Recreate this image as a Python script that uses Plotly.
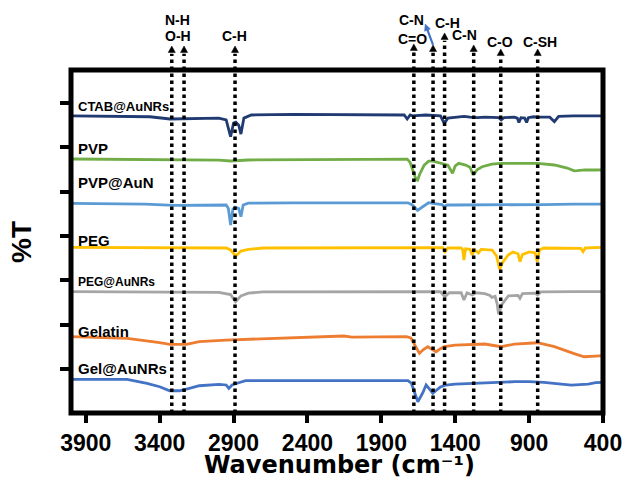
import math
import plotly.graph_objects as go

# ---------------- data ----------------
series_names = ["CTAB@AuNRs", "PVP", "PVP@AuN", "PEG", "PEG@AuNRs", "Gelatin", "Gel@AuNRs"]
series_colors = ["#203A72", "#70AD47", "#5B9BD5", "#FFC000", "#A5A5A5", "#ED7D31", "#4472C4"]

ctab_wn = [4000, 3466, 3330, 3130, 3000, 2950, 2920, 2900, 2885, 2865, 2850, 2830, 2780, 2500, 1800, 1745, 1725, 1705,
           1690, 1600, 1500, 1474, 1450, 1400, 1340, 1300, 1250, 1200, 1150, 1105, 1089, 1070, 1000, 980, 969, 955,
           930, 917, 905, 870, 840, 760, 729, 700, 600, 450, 400]
ctab_t = [6.71, 6.69, 6.64, 6.66, 6.66, 6.62, 6.24, 6.55, 6.57, 6.50, 6.30, 6.66, 6.73, 6.745, 6.745, 6.73, 6.64, 6.73,
          6.71, 6.73, 6.71, 6.54, 6.66, 6.68, 6.70, 6.68, 6.67, 6.68, 6.68, 6.67, 6.62, 6.67, 6.68, 6.66, 6.56, 6.67,
          6.66, 6.56, 6.67, 6.69, 6.68, 6.68, 6.58, 6.70, 6.71, 6.71, 6.71]

pvp_wn = [4000, 3500, 3300, 3000, 2920, 2800, 2000, 1820, 1725, 1705, 1685, 1665, 1655, 1640, 1610, 1580, 1550, 1500,
          1450, 1418, 1400, 1376, 1330, 1300, 1278, 1250, 1218, 1152, 1089, 843, 729, 642, 595, 575, 522, 450, 400]
pvp_t = [5.737, 5.73, 5.715, 5.71, 5.692, 5.715, 5.73, 5.737, 5.735, 5.66, 5.44, 5.27, 5.26, 5.40, 5.60, 5.69, 5.69, 5.64,
         5.60, 5.415, 5.58, 5.64, 5.60, 5.55, 5.376, 5.50, 5.564, 5.62, 5.64, 5.64, 5.602, 5.534, 5.47, 5.473, 5.49,
         5.489, 5.49]

pvpau_wn = [4000, 3500, 3300, 3100, 2950, 2935, 2920, 2905, 2890, 2865, 2850, 2835, 2800, 2500, 1720, 1690, 1655, 1620,
            1580, 1550, 1490, 1475, 1455, 1400, 1200, 1000, 800, 600, 400]
pvpau_t = [4.738, 4.72, 4.69, 4.70, 4.70, 4.62, 4.248, 4.60, 4.65, 4.62, 4.436, 4.70, 4.74, 4.75, 4.75, 4.70, 4.58, 4.66,
           4.751, 4.735, 4.71, 4.661, 4.70, 4.70, 4.70, 4.71, 4.71, 4.72, 4.72]

peg_wn = [4000, 3000, 2950, 2920, 2885, 2850, 2800, 2700, 1500, 1485, 1469, 1450, 1360, 1350, 1341, 1330, 1300, 1285,
          1270, 1255, 1243, 1225, 1150, 1120, 1100, 1080, 1042, 1010, 975, 962, 945, 900, 860, 845, 830, 800, 600, 550,
          535, 520, 400]
peg_t = [3.745, 3.745, 3.73, 3.685, 3.549, 3.66, 3.70, 3.73, 3.745, 3.74, 3.646, 3.73, 3.73, 3.70, 3.459, 3.71, 3.70,
         3.572, 3.69, 3.66, 3.617, 3.70, 3.685, 3.55, 3.249, 3.40, 3.572, 3.64, 3.60, 3.42, 3.58, 3.64, 3.62, 3.42, 3.685,
         3.73, 3.73, 3.72, 3.646, 3.73, 3.745]

pegau_wn = [4000, 3300, 3000, 2920, 2887, 2850, 2800, 2700, 1500, 1470, 1440, 1360, 1341, 1320, 1285, 1260, 1200, 1165,
            1152, 1130, 1115, 1107, 1085, 1062, 1040, 975, 962, 945, 860, 843, 820, 600, 400]
pegau_t = [2.744, 2.744, 2.73, 2.68, 2.518, 2.65, 2.71, 2.74, 2.744, 2.631, 2.72, 2.72, 2.557, 2.72, 2.669, 2.72, 2.70,
           2.66, 2.617, 2.64, 2.45, 2.241, 2.45, 2.557, 2.65, 2.66, 2.595, 2.70, 2.71, 2.669, 2.74, 2.744, 2.744]

gel_wn = [4000, 3847, 3620, 3400, 3332, 3219, 3132, 2952, 2732, 2500, 2154, 2100, 1800, 1730, 1700, 1676, 1642, 1615,
          1586, 1560, 1530, 1500, 1474, 1400, 1300, 1200, 1089, 1000, 843, 729, 600, 528, 450, 400]
gel_t = [1.729, 1.716, 1.693, 1.593, 1.557, 1.557, 1.616, 1.654, 1.677, 1.70, 1.745, 1.72, 1.729, 1.729, 1.70, 1.55, 1.354,
         1.44, 1.503, 1.45, 1.39, 1.46, 1.503, 1.541, 1.557, 1.564, 1.503, 1.564, 1.593, 1.503, 1.354, 1.277, 1.293,
         1.30]

gelau_wn = [4000, 3620, 3486, 3400, 3332, 3266, 3199, 3132, 2998, 2950, 2932, 2910, 2865, 2818, 2700, 1777, 1720, 1697,
            1653, 1620, 1597, 1575, 1552, 1500, 1463, 1400, 1300, 1200, 1100, 996, 900, 800, 615, 500, 450, 400]
gelau_t = [0.768, 0.768, 0.677, 0.601, 0.51, 0.51, 0.564, 0.623, 0.655, 0.64, 0.564, 0.64, 0.691, 0.74, 0.74, 0.73,
           0.74, 0.68, 0.262, 0.46, 0.639, 0.55, 0.452, 0.594, 0.639, 0.66, 0.677, 0.68, 0.70, 0.714, 0.714, 0.70,
           0.639, 0.66, 0.691, 0.70]

series_wn = [ctab_wn, pvp_wn, pvpau_wn, peg_wn, pegau_wn, gel_wn, gelau_wn]
series_t = [ctab_t, pvp_t, pvpau_t, peg_t, pegau_t, gel_t, gelau_t]
series_label_y = [6.93, 5.985, 5.218, 3.91, 2.963, 1.857, 1.023]

# band marker positions (wavenumber) and arrow tip heights (paper units above the plot)
band_wn = [3318, 3235, 2890, 1680, 1550, 1472, 1275, 1092, 842]
band_tip = [1.070, 1.070, 1.070, 1.076, 1.073, 1.108, 1.073, 1.061, 1.061]

# band labels: text, wavenumber centre, paper y
band_text = ["N-H", "O-H", "C-H", "C-N", "C=O", "C-H", "C-N", "C-O", "C-SH"]
band_text_wn = [3281, 3279, 2892, 1697, 1686, 1450, 1336, 1096, 829]
band_text_y = [1.146, 1.099, 1.099, 1.146, 1.090, 1.137, 1.103, 1.082, 1.082]

# blue pointer: from the 1550 band arrow to its "C-N" label
pointer_from = (1550, 1.073)
pointer_to = (1603, 1.134)

x_ticks = [3900, 3400, 2900, 2400, 1900, 1400, 900, 400]
y_ticks = [1, 2, 3, 4, 5, 6, 7]

# ---------------- figure ----------------
FONT = "Arial, Liberation Sans, sans-serif"
X_RANGE = [4000, 400]
PLOT_W, PLOT_H = 538, 343
px_per_wn = PLOT_W / abs(X_RANGE[0] - X_RANGE[1])

fig = go.Figure()
for wn, t, name, col in zip(series_wn, series_t, series_names, series_colors):
    fig.add_trace(go.Scatter(x=wn, y=t, mode="lines", name=name,
                             line=dict(color=col, width=2.8), showlegend=False))

shapes = []
half_w = 3.6 / px_per_wn
tri_h = 6.5 / PLOT_H
for wn, tip in zip(band_wn, band_tip):
    base = tip - tri_h
    shapes.append(dict(type="line", xref="x", yref="paper", x0=wn, x1=wn, y0=0, y1=base - 0.004,
                       line=dict(color="black", width=3.5, dash="dot"), layer="above"))
    shapes.append(dict(type="path", xref="x", yref="paper",
                       path=f"M {wn - half_w},{base} L {wn + half_w},{base} L {wn},{tip} Z",
                       fillcolor="black", line=dict(color="black", width=0.5), layer="above"))

# blue pointer arrow (line + head), geometry computed in pixel space
(tw, ty), (hw, hy) = pointer_from, pointer_to
dx = (tw - hw) * px_per_wn
dy = (hy - ty) * PLOT_H
L = math.hypot(dx, dy)
ux, uy = dx / L, dy / L
head_len, head_half = 6.5, 3.2
bx, by = -ux * head_len, -uy * head_len
pxp, pyp = -uy * head_half, ux * head_half
def to_data(px, py):
    return hw - px / px_per_wn, hy + py / PLOT_H
p1 = to_data(bx + pxp, by + pyp)
p2 = to_data(bx - pxp, by - pyp)
stem_end = to_data(bx * 0.8, by * 0.8)
shapes.append(dict(type="line", xref="x", yref="paper", x0=tw, y0=ty, x1=stem_end[0], y1=stem_end[1],
                   line=dict(color="#4472C4", width=2.2), layer="above"))
shapes.append(dict(type="path", xref="x", yref="paper",
                   path=f"M {hw},{hy} L {p1[0]},{p1[1]} L {p2[0]},{p2[1]} Z",
                   fillcolor="#4472C4", line=dict(color="#4472C4", width=0.5), layer="above"))

shapes.append(dict(type="rect", xref="paper", yref="paper", x0=0, x1=1, y0=0, y1=1,
                   line=dict(color="black", width=5), layer="above"))

annotations = []
for name, ly in zip(series_names, series_label_y):
    size = 12 if name == "PEG@AuNRs" else (13 if name == "CTAB@AuNRs" else 15)
    annotations.append(dict(x=3968, y=ly, xref="x", yref="y", text=f"<b>{name}</b>", showarrow=False,
                            xanchor="left", yanchor="middle", font=dict(family=FONT, size=size, color="black")))
for txt, wn, py in zip(band_text, band_text_wn, band_text_y):
    annotations.append(dict(x=wn, y=py, xref="x", yref="paper", text=f"<b>{txt}</b>", showarrow=False,
                            xanchor="center", yanchor="middle", font=dict(family=FONT, size=14, color="black")))
annotations.append(dict(x=0.505, y=-0.152, xref="paper", yref="paper",
                        text="<b>Wavenumber (cm\u207b\u00b9)</b>", showarrow=False,
                        xanchor="center", yanchor="middle",
                        font=dict(family="DejaVu Sans, sans-serif", size=24, color="black")))
annotations.append(dict(x=-0.092, y=0.499, xref="paper", yref="paper", text="<b>%T</b>", showarrow=False,
                        textangle=-90, xanchor="center", yanchor="middle",
                        font=dict(family=FONT, size=28, color="black")))

fig.update_layout(
    width=634, height=480,
    margin=dict(l=71, r=25, t=70, b=67),
    paper_bgcolor="white", plot_bgcolor="white",
    shapes=shapes, annotations=annotations,
    xaxis=dict(range=X_RANGE, tickvals=x_ticks, ticktext=[str(v) for v in x_ticks],
               ticks="outside", ticklen=9, tickwidth=3.5, tickcolor="black",
               showgrid=False, zeroline=False, showline=False, ticklabelstandoff=0,
               tickfont=dict(family=FONT, size=23, color="black", weight="bold")),
    yaxis=dict(range=[0.008, 7.745], tickvals=y_ticks, ticks="outside", ticklen=10, tickwidth=4,
               tickcolor="black", showticklabels=False, showgrid=False, zeroline=False, showline=False),
)

fig.write_html("out.html")
